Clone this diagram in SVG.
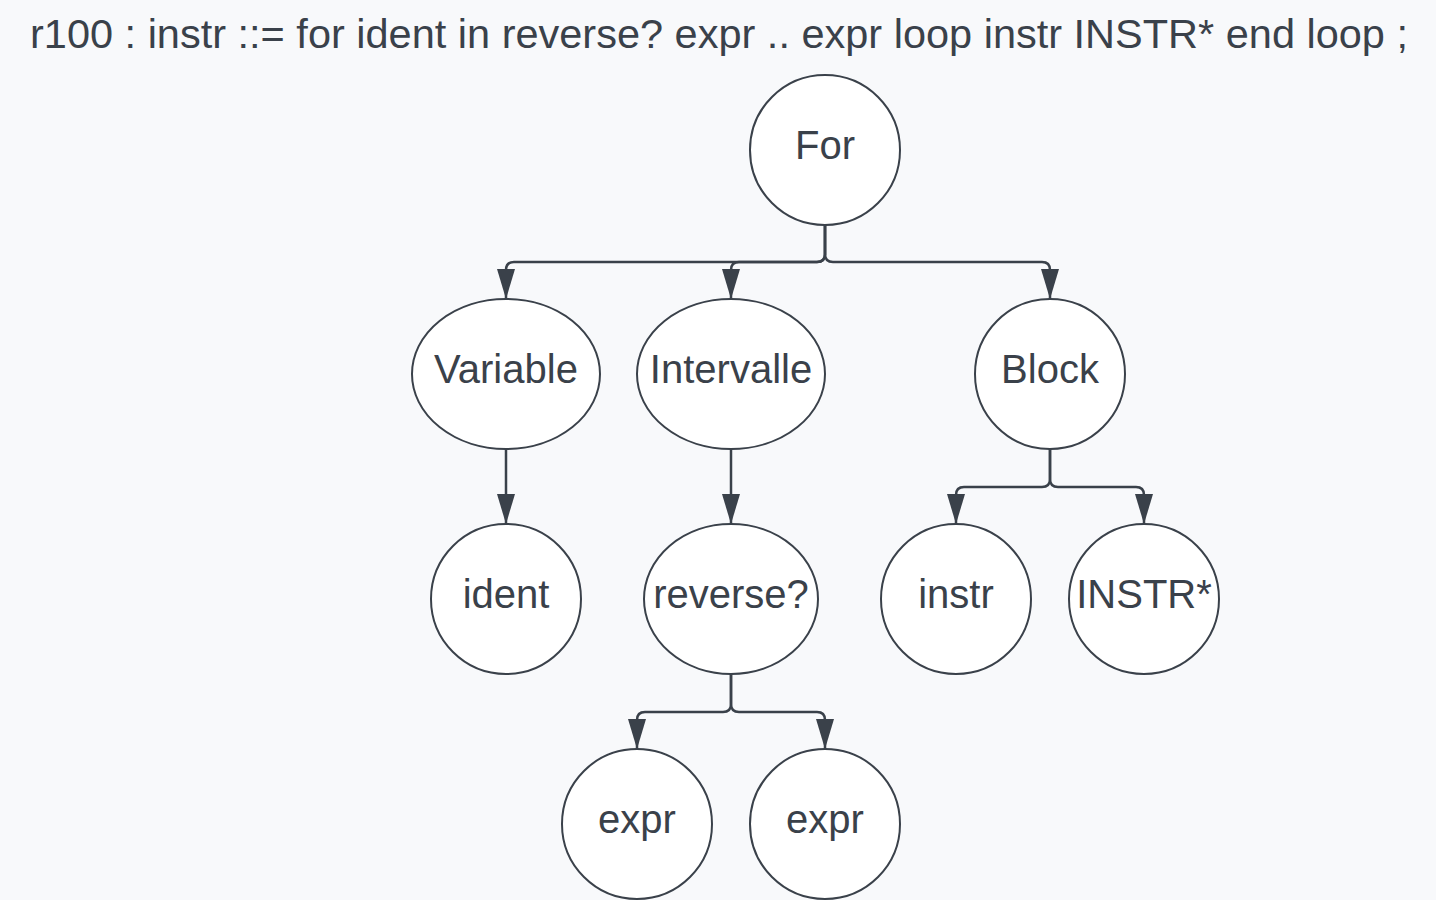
<svg xmlns="http://www.w3.org/2000/svg" width="1436" height="900" viewBox="0 0 1436 900">
<defs>
<style>
.n{fill:#ffffff;stroke:#3a414a;stroke-width:2}
.t{font-family:"Liberation Sans",Arial,sans-serif;font-size:40px;fill:#3a414a;text-anchor:middle}
.c{fill:none;stroke:#3a414a;stroke-width:2.5}
</style>
<marker id="ah" markerWidth="30" markerHeight="18" refX="30" refY="9" orient="auto" markerUnits="userSpaceOnUse" viewBox="0 0 30 18">
<path d="M0,0 L30,9 L0,18 Z" fill="#3a414a"/>
</marker>
</defs>
<rect width="1436" height="900" fill="#f8f9fb"/>
<text class="t" x="719" y="48" textLength="1378" lengthAdjust="spacingAndGlyphs">r100 : instr ::= for ident in reverse? expr .. expr loop instr INSTR* end loop ;</text>
<g id="connectors">
<path class="c" d="M825,224 V254 Q825,262 817,262 H514 Q506,262 506,270 V299" marker-end="url(#ah)"/>
<path class="c" d="M825,224 V254 Q825,262 817,262 H739 Q731,262 731,270 V299" marker-end="url(#ah)"/>
<path class="c" d="M825,224 V254 Q825,262 833,262 H1042 Q1050,262 1050,270 V299" marker-end="url(#ah)"/>
<path class="c" d="M506,449 V524" marker-end="url(#ah)"/>
<path class="c" d="M731,449 V524" marker-end="url(#ah)"/>
<path class="c" d="M1050,449 V479 Q1050,487 1042,487 H964 Q956,487 956,495 V524" marker-end="url(#ah)"/>
<path class="c" d="M1050,449 V479 Q1050,487 1058,487 H1136 Q1144,487 1144,495 V524" marker-end="url(#ah)"/>
<path class="c" d="M731,674 V704 Q731,712 723,712 H645 Q637,712 637,720 V749" marker-end="url(#ah)"/>
<path class="c" d="M731,674 V704 Q731,712 739,712 H817 Q825,712 825,720 V749" marker-end="url(#ah)"/>
</g>
<g id="node-for"><circle class="n" cx="825" cy="150" r="75"/><text class="t" x="825" y="159">For</text></g>
<g id="node-variable"><ellipse class="n" cx="506" cy="374" rx="94" ry="75"/><text class="t" x="506" y="383">Variable</text></g>
<g id="node-intervalle"><ellipse class="n" cx="731" cy="374" rx="94" ry="75"/><text class="t" x="731" y="383">Intervalle</text></g>
<g id="node-block"><circle class="n" cx="1050" cy="374" r="75"/><text class="t" x="1050" y="383">Block</text></g>
<g id="node-ident"><circle class="n" cx="506" cy="599" r="75"/><text class="t" x="506" y="608">ident</text></g>
<g id="node-reverse"><ellipse class="n" cx="731" cy="599" rx="87" ry="75"/><text class="t" x="731" y="608">reverse?</text></g>
<g id="node-instr"><circle class="n" cx="956" cy="599" r="75"/><text class="t" x="956" y="608">instr</text></g>
<g id="node-instr-star"><circle class="n" cx="1144" cy="599" r="75"/><text class="t" x="1144" y="608">INSTR*</text></g>
<g id="node-expr1"><circle class="n" cx="637" cy="824" r="75"/><text class="t" x="637" y="833">expr</text></g>
<g id="node-expr2"><circle class="n" cx="825" cy="824" r="75"/><text class="t" x="825" y="833">expr</text></g>
</svg>
